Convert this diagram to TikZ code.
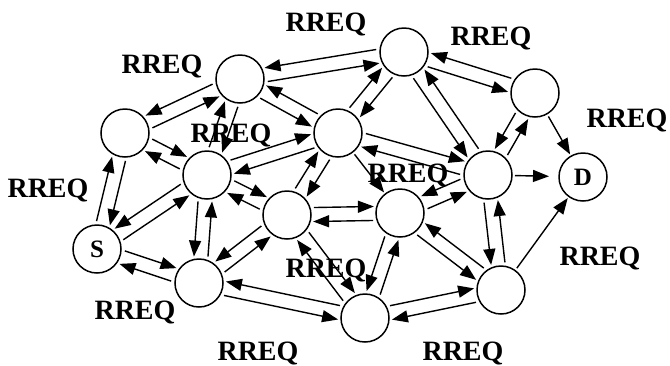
\documentclass[tikz,border=0pt]{standalone}
\usepackage{fontspec}
\setmainfont{Liberation Serif}
\usetikzlibrary{arrows.meta,calc}
\tikzset{
  host/.style={draw, circle, line width=1.5pt, minimum size=48pt, inner sep=0pt,
               font=\fontsize{25}{25}\selectfont\bfseries},
  flow/.style={-{Triangle[length=16pt,width=12pt]}, line width=1.4pt,
               shorten <=27pt, shorten >=26pt},
  tag/.style={font=\fontsize{28}{28}\selectfont\bfseries, anchor=base, inner sep=0pt},
}

\begin{document}
\begin{tikzpicture}[x=1pt,y=-1pt]
  \useasboundingbox (0,0) rectangle (670,365);
  % hosts
  \node[host] (S) at (97,249) {S};
  \node[host] (D) at (583,177) {D};
  \node[host] (A) at (240,79) {};
  \node[host] (B) at (125,133) {};
  \node[host] (C) at (207,175) {};
  \node[host] (E) at (338,133) {};
  \node[host] (F) at (404,52) {};
  \node[host] (G) at (535,93) {};
  \node[host] (H) at (488,175) {};
  \node[host] (I) at (400,213) {};
  \node[host] (J) at (287,215) {};
  \node[host] (K) at (199,283) {};
  \node[host] (L) at (365,318) {};
  \node[host] (M) at (501,290) {};

  % two-way links, each arrow on its right
  \foreach \a/\b in {A/F,A/B,A/E,S/C,C/K,K/J,K/L,I/L,F/H,F/G,G/H,H/I,H/M,I/M} {
    \draw[flow] ($(\a)!7pt!-90:(\b)$) -- ($(\b)!7pt!90:(\a)$);
    \draw[flow] ($(\b)!7pt!-90:(\a)$) -- ($(\a)!7pt!90:(\b)$);
  }
  % two-way links, each arrow on its left
  \foreach \a/\b in {B/C,C/A,S/B,C/E,S/K,C/J,J/E,J/I,J/L,E/H,E/F,L/M} {
    \draw[flow] ($(\a)!7pt!90:(\b)$) -- ($(\b)!7pt!-90:(\a)$);
    \draw[flow] ($(\b)!7pt!90:(\a)$) -- ($(\a)!7pt!-90:(\b)$);
  }
  % one-way links
  \draw[flow] (E.center) -- (I.center);
  \draw[flow] (G.center) -- (D.center);
  \draw[flow, shorten >=34pt] (H.center) -- (D.center);
  \draw[flow] (M.center) -- (D.center);

  % labels
  \node[tag] (q1) at (326,31) {RREQ};
  \node[tag] (q2) at (162,73) {RREQ};
  \node[tag] (q3) at (231,142) {RREQ};
  \node[tag] (q4) at (491,45) {RREQ};
  \node[tag] (q5) at (627,127) {RREQ};
  \node[tag] (q6) at (48,197) {RREQ};
  \node[tag] (q7) at (408,182) {RREQ};
  \node[tag] (q8) at (326,277) {RREQ};
  \node[tag] (q9) at (135,319) {RREQ};
  \node[tag] (q10) at (258,360) {RREQ};
  \node[tag] (q11) at (463,360) {RREQ};
  \node[tag] (q12) at (600,265) {RREQ};
\end{tikzpicture}
\end{document}
